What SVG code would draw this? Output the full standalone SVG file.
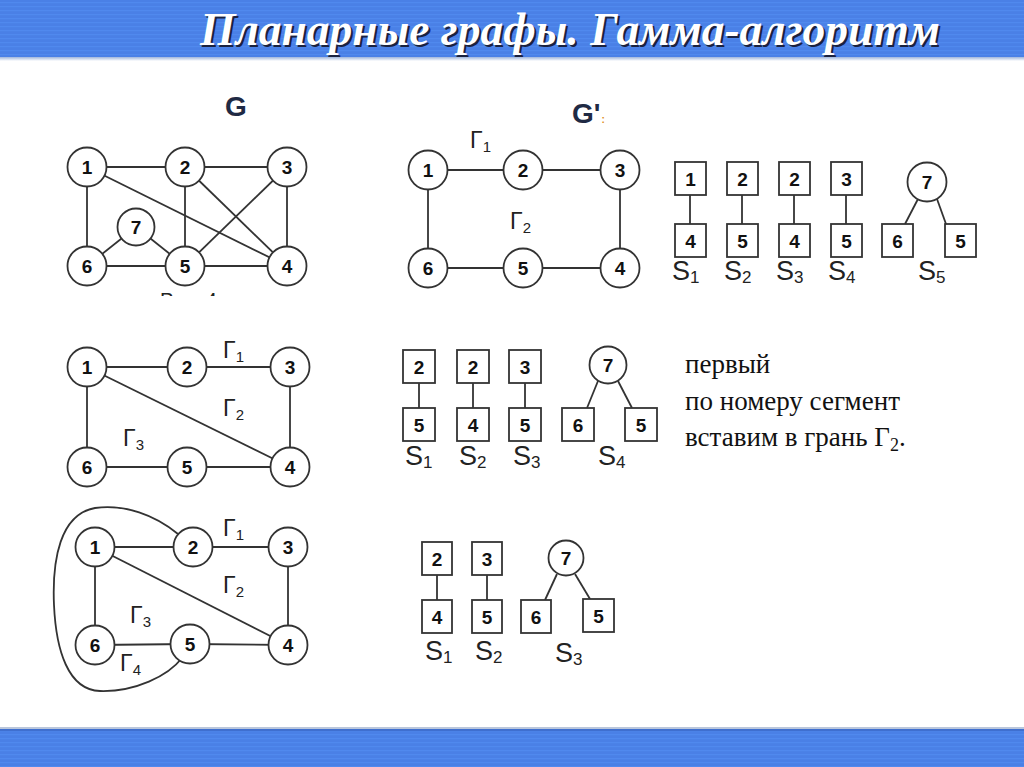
<svg xmlns="http://www.w3.org/2000/svg" width="1024" height="767" viewBox="0 0 1024 767">
<defs>
<pattern id="stripes" width="8" height="4" patternUnits="userSpaceOnUse">
<rect width="8" height="4" fill="#4a80e6"/>
<rect y="2" width="8" height="1.2" fill="#5089ee"/>
</pattern>
<linearGradient id="topEdge" x1="0" y1="0" x2="0" y2="1">
<stop offset="0" stop-color="#9fb6dc"/>
<stop offset="1" stop-color="#ffffff"/>
</linearGradient>
<clipPath id="clipRis"><rect x="140" y="270" width="120" height="26"/></clipPath>
</defs>
<style>
.e{stroke:#333;stroke-width:1.8;fill:none}
.n{fill:#fff;stroke:#333;stroke-width:1.8}
.b{fill:#fff;stroke:#333;stroke-width:1.8}
.t{font-family:"Liberation Sans",Arial,sans-serif;font-weight:bold;font-size:19px;fill:#111;text-anchor:middle}
.g{font-family:"Liberation Sans",Arial,sans-serif;font-size:23px;fill:#222}
.gs{font-size:15px}
.s{font-family:"Liberation Sans",Arial,sans-serif;font-size:27px;fill:#222}
.ss{font-size:17px}
.big{font-family:"Liberation Sans",Arial,sans-serif;font-weight:bold;font-size:28px;fill:#1f2a44}
.ru{font-family:"Liberation Serif","Times New Roman",serif;font-size:27px;fill:#111}
.ttl{font-family:"Liberation Serif","Times New Roman",serif;font-style:italic;font-weight:bold;font-size:47px}
</style>
<rect width="1024" height="767" fill="#fff"/>
<!-- top bar -->
<rect x="0" y="0" width="1024" height="57" fill="url(#stripes)"/>
<rect x="0" y="57" width="1024" height="4" fill="url(#topEdge)"/>
<!-- bottom bar -->
<rect x="0" y="727" width="1024" height="2" fill="#b9c6dc"/>
<rect x="0" y="729" width="1024" height="38" fill="url(#stripes)"/>
<rect x="0" y="729" width="1024" height="2" fill="#3f6fcf"/>
<!-- title -->
<g id="title">
<text class="ttl" x="202" y="47" textLength="740" lengthAdjust="spacingAndGlyphs" fill="#1a2240">Планарные графы. Гамма-алгоритм</text>
<text class="ttl" x="200" y="45" textLength="740" lengthAdjust="spacingAndGlyphs" fill="#fff">Планарные графы. Гамма-алгоритм</text>
</g>

<!-- ===== Graph G ===== -->
<text class="big" x="225" y="116">G</text>
<g clip-path="url(#clipRis)"><text x="160" y="307" font-family="'Liberation Sans',Arial,sans-serif" font-size="20" fill="#222">Рис. 4</text></g>
<g id="G-edges">
<line class="e" x1="87" y1="167" x2="185" y2="167"/>
<line class="e" x1="185" y1="167" x2="287" y2="167"/>
<line class="e" x1="87" y1="167" x2="87" y2="266"/>
<line class="e" x1="287" y1="167" x2="287" y2="266"/>
<line class="e" x1="87" y1="266" x2="185" y2="266"/>
<line class="e" x1="185" y1="266" x2="287" y2="266"/>
<line class="e" x1="185" y1="167" x2="185" y2="266"/>
<line class="e" x1="87" y1="167" x2="287" y2="266"/>
<line class="e" x1="185" y1="167" x2="287" y2="266"/>
<line class="e" x1="287" y1="167" x2="185" y2="266"/>
<line class="e" x1="87" y1="266" x2="136" y2="227"/>
<line class="e" x1="136" y1="227" x2="185" y2="266"/>
</g>
<g id="G-n1"><circle class="n" cx="87" cy="167" r="19.5"/><text class="t" x="87" y="174">1</text></g>
<g id="G-n2"><circle class="n" cx="185" cy="167" r="19.5"/><text class="t" x="185" y="174">2</text></g>
<g id="G-n3"><circle class="n" cx="287" cy="167" r="19.5"/><text class="t" x="287" y="174">3</text></g>
<g id="G-n4"><circle class="n" cx="287" cy="266" r="19.5"/><text class="t" x="287" y="273">4</text></g>
<g id="G-n5"><circle class="n" cx="185" cy="266" r="19.5"/><text class="t" x="185" y="273">5</text></g>
<g id="G-n6"><circle class="n" cx="87" cy="266" r="19.5"/><text class="t" x="87" y="273">6</text></g>
<g id="G-n7"><circle class="n" cx="136" cy="227" r="18.5"/><text class="t" x="136" y="234">7</text></g>

<!-- ===== Graph G' ===== -->
<text class="big" x="572" y="123">G'<tspan font-size="10" fill="#e08a20" dx="1">:</tspan></text>
<g id="Gp-edges">
<line class="e" x1="428" y1="170" x2="523" y2="170"/>
<line class="e" x1="523" y1="170" x2="620" y2="170"/>
<line class="e" x1="620" y1="170" x2="620" y2="268"/>
<line class="e" x1="620" y1="268" x2="523" y2="268"/>
<line class="e" x1="523" y1="268" x2="428" y2="268"/>
<line class="e" x1="428" y1="268" x2="428" y2="170"/>
</g>
<g id="Gp-n1"><circle class="n" cx="428" cy="170" r="19.5"/><text class="t" x="428" y="177">1</text></g>
<g id="Gp-n2"><circle class="n" cx="523" cy="170" r="19.5"/><text class="t" x="523" y="177">2</text></g>
<g id="Gp-n3"><circle class="n" cx="620" cy="170" r="19.5"/><text class="t" x="620" y="177">3</text></g>
<g id="Gp-n4"><circle class="n" cx="620" cy="268" r="19.5"/><text class="t" x="620" y="275">4</text></g>
<g id="Gp-n5"><circle class="n" cx="523" cy="268" r="19.5"/><text class="t" x="523" y="275">5</text></g>
<g id="Gp-n6"><circle class="n" cx="428" cy="268" r="19.5"/><text class="t" x="428" y="275">6</text></g>
<text class="g" x="470" y="148">Γ<tspan class="gs" dy="4">1</tspan></text>
<text class="g" x="510" y="229">Γ<tspan class="gs" dy="4">2</tspan></text>

<!-- ===== Segments row 1 ===== -->
<g id="R1-edges">
<line class="e" x1="690" y1="195" x2="690" y2="224"/>
<line class="e" x1="742" y1="195" x2="742" y2="224"/>
<line class="e" x1="794" y1="195" x2="794" y2="224"/>
<line class="e" x1="846" y1="195" x2="846" y2="224"/>
<line class="e" x1="918" y1="199" x2="905" y2="224"/>
<line class="e" x1="937" y1="199" x2="946" y2="224"/>
</g>
<g id="R1-S1"><rect class="b" x="675" y="162" width="31" height="33"/><text class="t" x="690.5" y="185.5">1</text><rect class="b" x="675" y="224" width="31" height="33"/><text class="t" x="690.5" y="247.5">4</text><text class="s" x="672" y="280">S<tspan class="ss" dy="3">1</tspan></text></g>
<g id="R1-S2"><rect class="b" x="727" y="162" width="31" height="33"/><text class="t" x="742.5" y="185.5">2</text><rect class="b" x="727" y="224" width="31" height="33"/><text class="t" x="742.5" y="247.5">5</text><text class="s" x="724" y="280">S<tspan class="ss" dy="3">2</tspan></text></g>
<g id="R1-S3"><rect class="b" x="779" y="162" width="31" height="33"/><text class="t" x="794.5" y="185.5">2</text><rect class="b" x="779" y="224" width="31" height="33"/><text class="t" x="794.5" y="247.5">4</text><text class="s" x="776" y="280">S<tspan class="ss" dy="3">3</tspan></text></g>
<g id="R1-S4"><rect class="b" x="831" y="162" width="31" height="33"/><text class="t" x="846.5" y="185.5">3</text><rect class="b" x="831" y="224" width="31" height="33"/><text class="t" x="846.5" y="247.5">5</text><text class="s" x="828" y="280">S<tspan class="ss" dy="3">4</tspan></text></g>
<g id="R1-S5"><circle class="n" cx="927" cy="182" r="19.5"/><text class="t" x="927" y="189">7</text><rect class="b" x="882" y="224" width="31" height="33"/><text class="t" x="897.5" y="247.5">6</text><rect class="b" x="945" y="224" width="31" height="33"/><text class="t" x="960.5" y="247.5">5</text><text class="s" x="918" y="280">S<tspan class="ss" dy="3">5</tspan></text></g>

<!-- ===== Graph row 2 ===== -->
<g id="R2G-edges">
<line class="e" x1="87" y1="367" x2="187" y2="367"/>
<line class="e" x1="187" y1="367" x2="290" y2="367"/>
<line class="e" x1="290" y1="367" x2="290" y2="467"/>
<line class="e" x1="290" y1="467" x2="187" y2="467"/>
<line class="e" x1="187" y1="467" x2="87" y2="467"/>
<line class="e" x1="87" y1="467" x2="87" y2="367"/>
<line class="e" x1="87" y1="367" x2="290" y2="467"/>
</g>
<g id="R2G-n1"><circle class="n" cx="87" cy="367" r="19.5"/><text class="t" x="87" y="374">1</text></g>
<g id="R2G-n2"><circle class="n" cx="187" cy="367" r="19.5"/><text class="t" x="187" y="374">2</text></g>
<g id="R2G-n3"><circle class="n" cx="290" cy="367" r="19.5"/><text class="t" x="290" y="374">3</text></g>
<g id="R2G-n4"><circle class="n" cx="290" cy="467" r="19.5"/><text class="t" x="290" y="474">4</text></g>
<g id="R2G-n5"><circle class="n" cx="187" cy="467" r="19.5"/><text class="t" x="187" y="474">5</text></g>
<g id="R2G-n6"><circle class="n" cx="87" cy="467" r="19.5"/><text class="t" x="87" y="474">6</text></g>
<text class="g" x="223" y="358">Γ<tspan class="gs" dy="4">1</tspan></text>
<text class="g" x="223" y="416">Γ<tspan class="gs" dy="4">2</tspan></text>
<text class="g" x="123" y="446">Γ<tspan class="gs" dy="4">3</tspan></text>

<!-- ===== Segments row 2 ===== -->
<g id="R2-edges">
<line class="e" x1="419" y1="383" x2="419" y2="408"/>
<line class="e" x1="473" y1="383" x2="473" y2="408"/>
<line class="e" x1="525" y1="383" x2="525" y2="408"/>
<line class="e" x1="598" y1="381" x2="587" y2="408"/>
<line class="e" x1="618" y1="381" x2="632" y2="408"/>
</g>
<g id="R2-S1"><rect class="b" x="403" y="350" width="32" height="33"/><text class="t" x="419" y="373.5">2</text><rect class="b" x="403" y="408" width="32" height="33"/><text class="t" x="419" y="431.5">5</text><text class="s" x="405" y="465">S<tspan class="ss" dy="3">1</tspan></text></g>
<g id="R2-S2"><rect class="b" x="457" y="350" width="32" height="33"/><text class="t" x="473" y="373.5">2</text><rect class="b" x="457" y="408" width="32" height="33"/><text class="t" x="473" y="431.5">4</text><text class="s" x="459" y="465">S<tspan class="ss" dy="3">2</tspan></text></g>
<g id="R2-S3"><rect class="b" x="509" y="350" width="32" height="33"/><text class="t" x="525" y="373.5">3</text><rect class="b" x="509" y="408" width="32" height="33"/><text class="t" x="525" y="431.5">5</text><text class="s" x="513" y="465">S<tspan class="ss" dy="3">3</tspan></text></g>
<g id="R2-S4"><circle class="n" cx="608" cy="365" r="18.5"/><text class="t" x="608" y="372">7</text><rect class="b" x="562" y="408" width="32" height="33"/><text class="t" x="578" y="431.5">6</text><rect class="b" x="625" y="408" width="32" height="33"/><text class="t" x="641" y="431.5">5</text><text class="s" x="598" y="465">S<tspan class="ss" dy="3">4</tspan></text></g>

<!-- text -->
<g id="note">
<text class="ru" x="685" y="373">первый</text>
<text class="ru" x="685" y="410">по номеру сегмент</text>
<text class="ru" x="685" y="446">вставим в грань Г<tspan font-size="18" dy="5">2</tspan><tspan dy="-5">.</tspan></text>
</g>

<!-- ===== Graph row 3 ===== -->
<g id="R3G-edges">
<line class="e" x1="95" y1="547" x2="193" y2="547"/>
<line class="e" x1="193" y1="547" x2="288" y2="547"/>
<line class="e" x1="288" y1="547" x2="288" y2="645"/>
<line class="e" x1="288" y1="645" x2="190" y2="644"/>
<line class="e" x1="190" y1="644" x2="95" y2="645"/>
<line class="e" x1="95" y1="645" x2="95" y2="547"/>
<line class="e" x1="95" y1="547" x2="288" y2="645"/>
<path class="e" d="M178,534 C155,515 125,504 95,508 C60,514 52,560 54,605 C56,650 68,690 100,691 C135,692 168,676 182,658"/>
</g>
<g id="R3G-n1"><circle class="n" cx="95" cy="547" r="19.5"/><text class="t" x="95" y="554">1</text></g>
<g id="R3G-n2"><circle class="n" cx="193" cy="547" r="19.5"/><text class="t" x="193" y="554">2</text></g>
<g id="R3G-n3"><circle class="n" cx="288" cy="547" r="19.5"/><text class="t" x="288" y="554">3</text></g>
<g id="R3G-n4"><circle class="n" cx="288" cy="645" r="19.5"/><text class="t" x="288" y="652">4</text></g>
<g id="R3G-n5"><circle class="n" cx="190" cy="644" r="19.5"/><text class="t" x="190" y="651">5</text></g>
<g id="R3G-n6"><circle class="n" cx="95" cy="645" r="19.5"/><text class="t" x="95" y="652">6</text></g>
<text class="g" x="223" y="536">Γ<tspan class="gs" dy="4">1</tspan></text>
<text class="g" x="223" y="593">Γ<tspan class="gs" dy="4">2</tspan></text>
<text class="g" x="130" y="623">Γ<tspan class="gs" dy="4">3</tspan></text>
<text class="g" x="120" y="671">Γ<tspan class="gs" dy="4">4</tspan></text>

<!-- ===== Segments row 3 ===== -->
<g id="R3-edges">
<line class="e" x1="437" y1="575" x2="437" y2="600"/>
<line class="e" x1="487" y1="575" x2="487" y2="600"/>
<line class="e" x1="557" y1="574" x2="545" y2="600"/>
<line class="e" x1="575" y1="574" x2="590" y2="599"/>
</g>
<g id="R3-S1"><rect class="b" x="422" y="542" width="30" height="33"/><text class="t" x="437" y="565.5">2</text><rect class="b" x="422" y="600" width="30" height="33"/><text class="t" x="437" y="623.5">4</text><text class="s" x="425" y="660">S<tspan class="ss" dy="3">1</tspan></text></g>
<g id="R3-S2"><rect class="b" x="472" y="542" width="30" height="33"/><text class="t" x="487" y="565.5">3</text><rect class="b" x="472" y="600" width="30" height="33"/><text class="t" x="487" y="623.5">5</text><text class="s" x="475" y="660">S<tspan class="ss" dy="3">2</tspan></text></g>
<g id="R3-S3"><circle class="n" cx="566" cy="558" r="17.5"/><text class="t" x="566" y="565">7</text><rect class="b" x="521" y="600" width="30" height="33"/><text class="t" x="536" y="623.5">6</text><rect class="b" x="583" y="599" width="31" height="33"/><text class="t" x="598.5" y="622.5">5</text><text class="s" x="555" y="662">S<tspan class="ss" dy="3">3</tspan></text></g>
</svg>
